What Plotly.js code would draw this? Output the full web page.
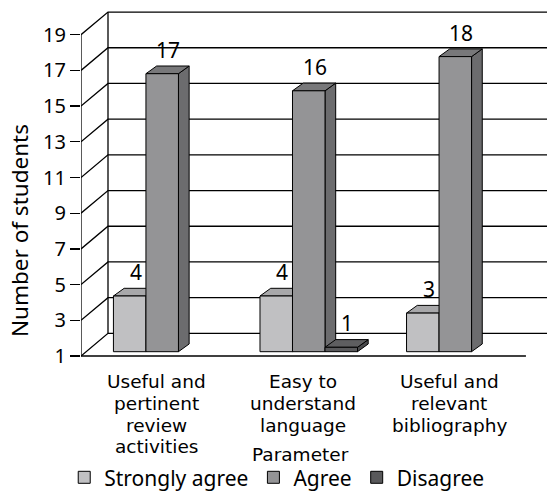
<!DOCTYPE html>
<html>
<head>
<meta charset="utf-8">
<script src="https://cdn.plot.ly/plotly-3.0.1.min.js"></script>
<style>html,body{margin:0;padding:0;background:#fff;}#chart{width:547px;height:497px;}</style>
</head>
<body>
<div id="chart"></div>
<script>
// ---- data ----
const categories = ["Useful and<br>pertinent<br>review<br>activities", "Easy to<br>understand<br>language", "Useful and<br>relevant<br>bibliography"];
const seriesNames = ["Strongly agree", "Agree", "Disagree"];
const stronglyAgree = [4, 4, 3];
const agree = [17, 16, 18];
const disagree = [null, 1, null];
const yTickVals = [1, 3, 5, 7, 9, 11, 13, 15, 17, 19];
const xTitle = "Parameter";
const yTitle = "Number of students";

// ---- styles ----
const FONT = "Noto Sans, Open Sans, sans-serif";
const CAT_FONT = "DejaVu Sans, Noto Sans, sans-serif";
const frontColors = ["#c0c0c2", "#949496", "#59595b"];
const topColors = ["#a8a8aa", "#78787a", "#5e5e60"];
const sideColors = ["#9a9a9c", "#6c6c6e", "#4a4a4c"];

// geometry (axis ranges and 3D offsets)
const xRange = [-0.554, 2.6257];
const yFrontRange = [0.776, 20.496];
const yBarRange = [0.257, 20.842];
const barBase = 0.743;
const barW = 0.2218;
const depthX = 0.073, depthY = 0.45;   // bar depth (x units, bar-axis units)
const wallDX = 0.1842, wallDY = 1.27;  // wall depth (x units, front-axis units)
const labelLift = 1.40;                // value label offset above bar (bar-axis units)

const series = [stronglyAgree, agree, disagree];
const traces = [];

// walls / grid (front scale)
const wx = [], wy = [];
const xL = xRange[0], xR = xRange[1];
yTickVals.forEach(t => {
  wx.push(xL, xL + wallDX, xR, null); wy.push(t, t + wallDY, t + wallDY, null);
});
const yMin = yTickVals[0], yMax = yTickVals[yTickVals.length - 1];
wx.push(xL + wallDX, xL + wallDX, null); wy.push(yMin + wallDY, yMax + wallDY, null);
wx.push(xL, xL, null); wy.push(yMin, yMax, null);
wx.push(xL, 2.482, null); wy.push(yMin, yMin, null);
traces.push({type: "scatter", mode: "lines", x: wx, y: wy, xaxis: "x", yaxis: "y",
  line: {color: "#000", width: 1.3}, hoverinfo: "skip", showlegend: false, cliponaxis: false});

// side and top faces (bar scale)
series.forEach((vals, s) => {
  const off = (s - 1) * barW;
  const tx = [], ty = [], sx = [], sy = [];
  vals.forEach((v, i) => {
    if (v === null || v === undefined) return;
    const left = i + off - barW / 2, right = left + barW;
    tx.push(left, right, right + depthX, left + depthX, left, null);
    ty.push(v, v, v + depthY, v + depthY, v, null);
    sx.push(right, right + depthX, right + depthX, right, right, null);
    sy.push(barBase, barBase + depthY, v + depthY, v, barBase, null);
  });
  traces.push({type: "scatter", mode: "lines", x: sx, y: sy, xaxis: "x", yaxis: "y2",
    fill: "toself", fillcolor: sideColors[s], line: {color: "#000", width: 1},
    hoverinfo: "skip", showlegend: false, cliponaxis: false});
  traces.push({type: "scatter", mode: "lines", x: tx, y: ty, xaxis: "x", yaxis: "y2",
    fill: "toself", fillcolor: topColors[s], line: {color: "#000", width: 1},
    hoverinfo: "skip", showlegend: false, cliponaxis: false});
});

// front faces (bars)
series.forEach((vals, s) => {
  traces.push({type: "bar", name: seriesNames[s], xaxis: "x", yaxis: "y3",
    x: vals.map((v, i) => i),
    y: vals.map(v => v === null ? null : v - barBase),
    base: barBase, width: barW, offset: (s - 1) * barW - barW / 2,
    marker: {color: frontColors[s], line: {color: "#000", width: 1}},
    hoverinfo: "skip"});
});

// annotations
const annotations = [];
series.forEach((vals, s) => {
  vals.forEach((v, i) => {
    if (v === null) return;
    annotations.push({x: i + (s - 1) * barW + 0.04, y: v + labelLift, xref: "x", yref: "y3",
      text: String(v), showarrow: false, xanchor: "center", yanchor: "middle",
      font: {family: FONT, size: 21, color: "#000"}});
  });
});
categories.forEach((c, i) => {
  c.split("<br>").forEach((line, k) => {
    annotations.push({x: i - 0.04, y: 0, xref: "x", yref: "paper", text: line, showarrow: false,
      xanchor: "center", yanchor: "middle", yshift: -(21.5 + 21.8 * k),
      font: {family: CAT_FONT, size: 18.5, color: "#000"}});
  });
});
annotations.push({x: 0.472, y: 0, xref: "paper", yref: "paper", text: xTitle, showarrow: false,
  xanchor: "center", yanchor: "middle", yshift: -94, font: {family: CAT_FONT, size: 18.5, color: "#000"}});
annotations.push({x: 0, y: 8, xref: "paper", yref: "y", text: yTitle, showarrow: false, textangle: -90,
  xanchor: "center", yanchor: "middle", xshift: -62, font: {family: FONT, size: 22.5, color: "#000"}});

const layout = {
  width: 547, height: 497,
  margin: {l: 81, r: 0, t: 8, b: 137, autoexpand: false},
  paper_bgcolor: "#fff", plot_bgcolor: "#fff",
  font: {family: FONT, color: "#000"},
  xaxis: {range: xRange, visible: false, fixedrange: true},
  yaxis: {range: yFrontRange, tickvals: yTickVals, ticks: "outside", ticklen: 10, tickwidth: 1.3,
    tickcolor: "#000", showgrid: false, zeroline: false, showline: false,
    tickfont: {family: FONT, size: 20, color: "#000"}, fixedrange: true},
  yaxis2: {range: yBarRange, overlaying: "y", visible: false, fixedrange: true},
  yaxis3: {range: yBarRange, overlaying: "y", visible: false, fixedrange: true},
  showlegend: true,
  legend: {orientation: "h", x: -0.036, xanchor: "left", y: -0.276, yanchor: "top",
    font: {family: FONT, size: 21, color: "#000"}, itemwidth: 30, traceorder: "normal",
    bgcolor: "rgba(0,0,0,0)"},
  annotations: annotations,
  bargap: 0
};

Plotly.newPlot("chart", traces, layout, {displayModeBar: false, staticPlot: true});
</script>
</body>
</html>
